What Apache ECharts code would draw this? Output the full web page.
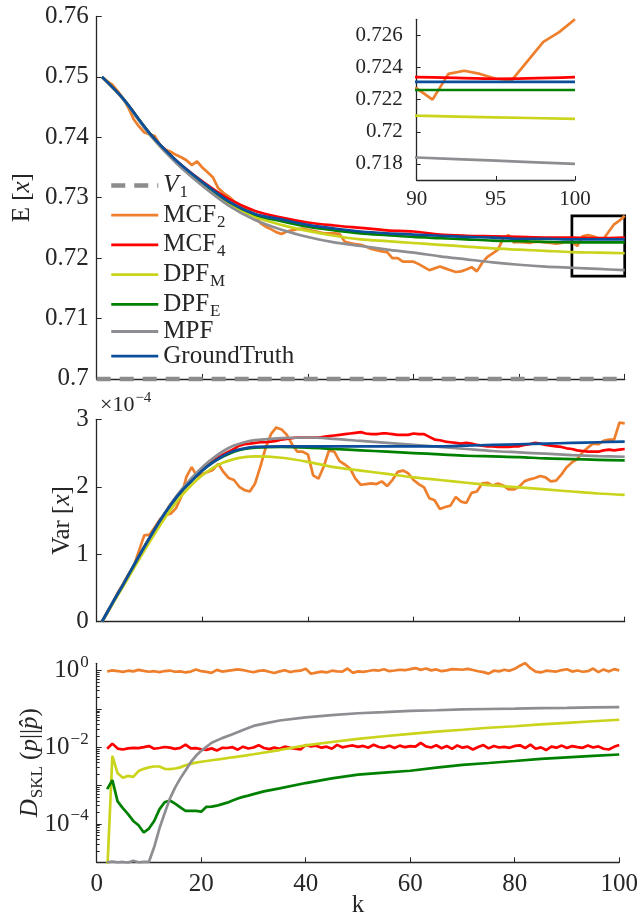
<!DOCTYPE html>
<html>
<head>
<meta charset="utf-8">
<script src="https://cdn.jsdelivr.net/npm/echarts@6/dist/echarts.min.js"></script>
<style>
  html, body { margin: 0; padding: 0; background: #fff; }
  #chart { width: 641px; height: 921px; }
</style>
</head>
<body>
<div id="chart"></div>
<script>
  // ---- data ----
  // panel 1: E[x]
  var kE = [1, 5, 10, 15, 20, 25, 30, 35, 40, 45, 50, 55, 60, 65, 70, 75, 80, 85, 90, 95, 100];
  var eMCF4 = [.7500, .7464, .7407, .7362, .7327, .7298, .7278, .7267, .7259, .7254, .7250, .7246, .7244, .7239, .7237, .7236, .7235, .7234, .7234, .7233, .7234];
  var eDPFM = [.7500, .7463, .7405, .7359, .7322, .7290, .7268, .7255, .7245, .7237, .7231, .7228, .7225, .7222, .7219, .7216, .7214, .7212, .7210, .7209, .7208];
  var eDPFE = [.7500, .7464, .7407, .7361, .7325, .7293, .7272, .7261, .7252, .7246, .7241, .7238, .7235, .7233, .7231, .7229, .7228, .7227, .7226, .7226, .7226];
  var eMPF = [.7500, .7463, .7405, .7358, .7320, .7287, .7263, .7247, .7235, .7226, .7220, .7214, .7209, .7203, .7198, .7193, .7189, .7186, .7184, .7182, .7180];
  var eGT = [.7500, .7464, .7407, .7362, .7326, .7294, .7273, .7264, .7255, .7249, .7244, .7241, .7239, .7237, .7235, .7234, .7232, .7232, .7231, .7231, .7231];
  // MCF2 is noisy, one value per k = 1..100
  var eMCF2 = [
    0.7500, 0.7493, 0.7487, 0.7476, 0.7464, 0.7449, 0.7430, 0.7418, 0.7408, 0.7405,
    0.7402, 0.7387, 0.7380, 0.7376, 0.7371, 0.7367, 0.7362, 0.7354, 0.7360, 0.7350,
    0.7342, 0.7334, 0.7316, 0.7308, 0.7302, 0.7294, 0.7289, 0.7284, 0.7278, 0.7270,
    0.7258, 0.7252, 0.7248, 0.7243, 0.7240, 0.7244, 0.7246, 0.7248, 0.7249, 0.7247,
    0.7245, 0.7243, 0.7241, 0.7241, 0.7241, 0.7240, 0.7227, 0.7225, 0.7223, 0.7222,
    0.7219, 0.7215, 0.7213, 0.7211, 0.7210, 0.7200, 0.7200, 0.7194, 0.7194, 0.7194,
    0.7190, 0.7185, 0.7180, 0.7183, 0.7186, 0.7183, 0.7180, 0.7177, 0.7178, 0.7181,
    0.7185, 0.7178, 0.7192, 0.7202, 0.7208, 0.7214, 0.7233, 0.7238, 0.7226, 0.7227,
    0.7226, 0.7225, 0.7227, 0.7227, 0.7226, 0.7225, 0.7224, 0.7225, 0.7227, 0.7227,
    0.7220, 0.7236, 0.7238, 0.7236, 0.7233, 0.7232, 0.7244, 0.7256, 0.7262, 0.7270
  ];
  var kV1 = [0, 100];
  var eV1 = [0.7, 0.7];

  // panel 2: Var[x], in units of 1e-4
  var kV = [1, 3, 5, 8, 10, 12, 14, 16, 18, 20, 22, 24, 26, 28, 30, 35, 40, 45, 50, 55, 60, 65, 70, 75, 80, 85, 90, 95, 100];
  var vGT = [0, .28, .55, .97, 1.24, 1.50, 1.73, 1.93, 2.09, 2.24, 2.36, 2.46, 2.53, 2.57, 2.59, 2.60, 2.60, 2.60, 2.60, 2.60, 2.60, 2.60, 2.61, 2.62, 2.63, 2.64, 2.65, 2.66, 2.67];
  var vMPF = [0, .28, .55, .97, 1.24, 1.50, 1.74, 1.95, 2.13, 2.29, 2.42, 2.53, 2.61, 2.66, 2.69, 2.72, 2.73, 2.71, 2.68, 2.65, 2.62, 2.59, 2.56, 2.53, 2.51, 2.49, 2.47, 2.455, 2.445];
  var vDPFE = [0, .28, .55, .97, 1.24, 1.50, 1.73, 1.93, 2.09, 2.24, 2.36, 2.45, 2.52, 2.56, 2.58, 2.59, 2.58, 2.56, 2.54, 2.52, 2.50, 2.48, 2.46, 2.45, 2.44, 2.42, 2.41, 2.40, 2.39];
  var vDPFM = [0, .26, .52, .92, 1.18, 1.43, 1.66, 1.86, 2.03, 2.17, 2.28, 2.36, 2.41, 2.44, 2.45, 2.43, 2.37, 2.29, 2.24, 2.19, 2.14, 2.10, 2.06, 2.02, 1.99, 1.96, 1.93, 1.90, 1.88];
  var vMCF4 = [
    0, .14, .28, .42, .55, .69, .83, .97, 1.11, 1.24,
    1.37, 1.50, 1.62, 1.74, 1.84, 1.94, 2.03, 2.11, 2.19, 2.26,
    2.32, 2.38, 2.43, 2.48, 2.52, 2.56, 2.61, 2.63, 2.64, 2.65,
    2.66, 2.66, 2.67, 2.68, 2.70, 2.71, 2.72, 2.73, 2.73, 2.73,
    2.73, 2.73, 2.74, 2.75, 2.76, 2.77, 2.78, 2.79, 2.80, 2.81,
    2.79, 2.78, 2.78, 2.79, 2.79, 2.78, 2.77, 2.77, 2.77, 2.79,
    2.78, 2.78, 2.74, 2.70, 2.69, 2.67, 2.66, 2.65, 2.64, 2.65,
    2.64, 2.62, 2.61, 2.60, 2.60, 2.59, 2.59, 2.59, 2.60, 2.60,
    2.62, 2.63, 2.65, 2.64, 2.62, 2.61, 2.60, 2.59, 2.57, 2.56,
    2.54, 2.53, 2.52, 2.52, 2.52, 2.54, 2.55, 2.54, 2.55, 2.56
  ];
  var vMCF2 = [
    0, .13, .27, .43, .56, .70, .82, 1.05, 1.28, 1.29,
    1.40, 1.52, 1.58, 1.60, 1.68, 1.85, 2.15, 2.29, 2.15, 2.19,
    2.22, 2.25, 2.34, 2.22, 2.13, 2.10, 2.00, 1.95, 1.93, 2.05,
    2.30, 2.58, 2.78, 2.88, 2.85, 2.77, 2.63, 2.52, 2.52, 2.48,
    2.17, 2.12, 2.30, 2.54, 2.52, 2.38, 2.33, 2.27, 2.12, 2.03,
    2.04, 2.05, 2.04, 2.08, 2.01, 2.10, 2.22, 2.24, 2.20, 2.10,
    2.04, 1.99, 1.83, 1.80, 1.67, 1.70, 1.72, 1.85, 1.78, 1.76,
    1.91, 1.93, 2.05, 2.06, 2.02, 2.05, 2.02, 1.96, 1.96, 2.00,
    2.08, 2.11, 2.13, 2.16, 2.14, 2.08, 2.09, 2.18, 2.29, 2.36,
    2.41, 2.51, 2.58, 2.64, 2.63, 2.68, 2.70, 2.70, 2.95, 2.94
  ];

  // panel 3: D_SKL (log scale), noisy series for k = 2..100
  var dMCF2 = [
    0.95, 1.02, 0.98, 0.93, 1.00, 0.96, 1.05, 0.99, 0.94, 0.97,
    0.92, 0.98, 1.01, 0.94, 0.96, 0.90, 0.95, 1.07, 0.97, 0.93,
    0.88, 1.05, 0.95, 0.99, 1.03, 1.08, 1.04, 0.97, 0.91, 0.99,
    1.02, 0.94, 0.87, 0.96, 1.03, 0.92, 0.98, 1.00, 1.12, 0.83,
    0.89, 0.95, 0.90, 1.00, 0.96, 0.95, 1.14, 0.88, 0.96, 0.93,
    0.98, 1.04, 1.01, 1.09, 0.97, 1.01, 1.06, 1.03, 1.10, 1.17,
    1.05, 1.14, 1.02, 1.08, 0.97, 1.02, 1.10, 1.08, 1.06, 1.12,
    1.04, 0.97, 0.92, 0.84, 1.00, 0.96, 1.06, 0.99, 1.12, 1.35,
    1.58, 1.16, 0.95, 0.90, 1.00, 0.97, 0.95, 1.04, 1.09, 0.95,
    1.01, 0.94, 0.97, 1.14, 0.92, 1.08, 0.95, 1.10, 1.02
  ];
  var dMCF4 = [
    0.0092, 0.0125, 0.0093, 0.0088, 0.0094, 0.0097, 0.0095, 0.0101, 0.0108, 0.0092,
    0.0096, 0.0102, 0.0098, 0.0091, 0.0097, 0.0118, 0.0094, 0.0095, 0.0089, 0.0086,
    0.0094, 0.0083, 0.0097, 0.0096, 0.0101, 0.0087, 0.0104, 0.0093, 0.0099, 0.0114,
    0.0096, 0.0090, 0.0098, 0.0092, 0.0104, 0.0097, 0.0093, 0.0088, 0.0115, 0.0106,
    0.0110, 0.0098, 0.0104, 0.0092, 0.0116, 0.0100, 0.0107, 0.0112, 0.0103, 0.0109,
    0.0098, 0.0117, 0.0102, 0.0097, 0.0110, 0.0096, 0.0111, 0.0101, 0.0108, 0.0104,
    0.0131, 0.0106, 0.0099, 0.0113, 0.0095, 0.0108, 0.0091, 0.0112, 0.0098, 0.0104,
    0.0088, 0.0102, 0.0115, 0.0094, 0.0108, 0.0099, 0.0103, 0.0097, 0.0109, 0.0113,
    0.0096, 0.0118, 0.0092, 0.0100, 0.0085, 0.0104, 0.0098, 0.0111, 0.0096, 0.0108,
    0.0101, 0.0097, 0.0112, 0.0099, 0.0106, 0.0092, 0.0088, 0.0103, 0.0115
  ];
  var kDPFM = [2, 3, 4, 5, 6, 7, 8, 9, 10, 11, 12, 13, 14, 15, 16, 17, 18, 19, 20, 22, 24, 26, 28, 30, 35, 40, 45, 50, 55, 60, 65, 70, 75, 80, 85, 90, 95, 100];
  var dDPFM = [5e-6, 6.0e-3, 2.1e-3, 1.6e-3, 1.8e-3, 1.7e-3, 2.4e-3, 2.75e-3, 3.0e-3, 3.16e-3,
    3.16e-3, 2.75e-3, 2.7e-3, 2.8e-3, 3.0e-3, 3.4e-3, 3.7e-3, 4.0e-3, 4.2e-3, 4.6e-3,
    5.0e-3, 5.5e-3, 6.0e-3, 6.6e-3, 8.5e-3, 0.0112, 0.0138, 0.0166, 0.0195, 0.0224,
    0.0257, 0.0288, 0.0324, 0.0355, 0.0398, 0.0437, 0.0479, 0.0525];
  var kDPFE = [2, 3, 4, 5, 6, 7, 8, 9, 10, 11, 12, 13, 14, 15, 16, 17, 18, 19, 20, 21, 22, 23, 24, 25, 26, 27, 28, 29, 30, 32, 35, 40, 45, 50, 55, 60, 65, 70, 75, 80, 85, 90, 95, 100];
  var dDPFE = [8.1e-4, 1.4e-3, 3.9e-4, 2.6e-4, 1.8e-4, 1.2e-4, 9.3e-5, 6.0e-5, 7.6e-5, 1.2e-4,
    2.4e-4, 3.7e-4, 4.1e-4, 3.4e-4, 2.7e-4, 2.2e-4, 2.2e-4, 2.2e-4, 2.1e-4, 2.8e-4,
    2.85e-4, 3.0e-4, 3.3e-4, 3.6e-4, 4.1e-4, 4.6e-4, 5.1e-4, 5.5e-4, 6.0e-4, 7.1e-4,
    8.5e-4, 1.17e-3, 1.55e-3, 1.95e-3, 2.2e-3, 2.45e-3, 2.95e-3, 3.5e-3, 3.9e-3, 4.4e-3,
    5.0e-3, 5.5e-3, 6.0e-3, 6.5e-3];
  var kMPF = [2, 3, 4, 5, 6, 7, 8, 9, 10, 11, 12, 13, 14, 15, 16, 17, 18, 19, 20, 22, 24, 26, 28, 30, 32, 35, 40, 45, 50, 55, 60, 65, 70, 75, 80, 85, 90, 95, 100];
  var dMPF = [1.0e-5, 1.05e-5, 1.0e-5, 1.02e-5, 0.98e-5, 1.1e-5, 1.0e-5, 1.02e-5, 1.03e-5,
    2.5e-5, 7.6e-5, 1.9e-4, 4.6e-4, 8.9e-4, 1.55e-3, 2.5e-3, 4.1e-3, 6.0e-3, 8.1e-3,
    0.0132, 0.0174, 0.0219, 0.0282, 0.0363, 0.0417, 0.0501,
    0.0603, 0.069, 0.0776, 0.083, 0.089, 0.093, 0.098, 0.1, 0.102, 0.105, 0.107, 0.11, 0.112];

  // tick labels
  var eTicks = [0.7, 0.71, 0.72, 0.73, 0.74, 0.75, 0.76];
  var insetTicks = [0.718, 0.72, 0.722, 0.724, 0.726];
  var logLabelTicks = [1e-4, 1e-2, 1];

  var kFull = [];
  for (var i = 1; i <= 100; i++) kFull.push(i);
  var kFrom2 = kFull.slice(1);

  // ---- style ----
  var serif = 'Liberation Serif';
  var ink = '#262626';
  var colors = {
    V1: '#8c8c8c',
    MCF2: '#ee7f2d',
    MCF4: '#ff0000',
    DPFM: '#cbd41c',
    DPFE: '#008000',
    MPF: '#8e8e92',
    GroundTruth: '#0b4e9b'
  };
  var v1Dash = [14, 9];
  var legendText = {
    V1: '{i|V}{sub|1}',
    MCF2: 'MCF{sub|2}',
    MCF4: 'MCF{sub|4}',
    DPFM: 'DPF{sub|M}',
    DPFE: 'DPF{sub|E}',
    MPF: 'MPF',
    GroundTruth: 'GroundTruth'
  };
  function richSet(size) {
    return {
      i: { fontFamily: serif, fontStyle: 'italic', fontSize: size, color: ink, verticalAlign: 'middle' },
      sub: { fontFamily: serif, fontSize: Math.round(size * 0.66), color: ink, lineHeight: 10, padding: [14, 0, 0, 1], verticalAlign: 'middle' },
      sup: { fontFamily: serif, fontSize: Math.round(size * 0.66), color: ink, lineHeight: 10, padding: [0, 0, 16, 1], verticalAlign: 'middle' }
    };
  }

  function pairs(ks, vs) {
    return ks.map(function (k, j) { return [k, vs[j]]; });
  }
  function line(name, grid, ks, vs, opts) {
    var s = {
      type: 'line',
      name: name,
      xAxisIndex: grid,
      yAxisIndex: grid,
      data: pairs(ks, vs),
      symbol: 'none',
      clip: true,
      lineStyle: { color: colors[name], width: 2.7 },
      itemStyle: { color: colors[name] }
    };
    if (opts) Object.keys(opts).forEach(function (key) { s[key] = opts[key]; });
    return s;
  }
  var smooth = { smooth: 0.3 };

  function xAxisFor(grid, showLabel) {
    return {
      type: 'value', gridIndex: grid, min: 0, max: 100, interval: 20,
      axisLine: { lineStyle: { color: ink, width: 1.3 } },
      axisTick: { inside: true, length: 5, lineStyle: { color: ink } },
      splitLine: { show: false },
      axisLabel: { show: showLabel, color: ink, fontFamily: serif, fontSize: 25, margin: 10 }
    };
  }

  // minor ticks for the log axis
  var minorLog = [];
  for (var e = -5; e <= 0; e++) {
    for (var m = 2; m <= 9; m++) {
      if (m * Math.pow(10, e) < 1.56) minorLog.push(m * Math.pow(10, e));
    }
  }

  var grids = [
    { left: 96.7, top: 16.5, width: 528, height: 362.4 },
    { left: 96.7, top: 419.3, width: 528, height: 202.4 },
    { left: 96.7, top: 663.3, width: 528, height: 199 },
    { left: 416.7, top: 19.3, width: 158.3, height: 160.7 }
  ];

  var xAxes = [xAxisFor(0, false), xAxisFor(1, false), xAxisFor(2, true), {
    type: 'value', gridIndex: 3, min: 90, max: 100, interval: 5,
    axisLine: { lineStyle: { color: ink, width: 1.3 } },
    axisTick: { inside: true, length: 4, lineStyle: { color: ink } },
    splitLine: { show: false },
    axisLabel: { color: ink, fontFamily: serif, fontSize: 21, margin: 9 }
  }];
  xAxes[2].name = 'k';
  xAxes[2].nameLocation = 'middle';
  xAxes[2].nameGap = 31;
  xAxes[2].nameMoveOverlap = false;
  xAxes[2].nameTextStyle = { color: ink, fontFamily: serif, fontSize: 25 };

  var yAxes = [
    {
      type: 'value', gridIndex: 0, min: 0.7, max: 0.76,
      axisLine: { show: true, lineStyle: { color: ink, width: 1.3 } },
      axisTick: { inside: true, length: 5, lineStyle: { color: ink }, customValues: eTicks },
      axisLabel: { color: ink, fontFamily: serif, fontSize: 25, margin: 8, customValues: eTicks },
      splitLine: { show: false },
      name: 'E [{i|x}]', nameLocation: 'middle', nameGap: 62, nameMoveOverlap: false,
      nameTextStyle: { color: ink, fontFamily: serif, fontSize: 25, rich: richSet(25) }
    },
    {
      type: 'value', gridIndex: 1, min: 0, max: 3, interval: 1,
      axisLine: { show: true, lineStyle: { color: ink, width: 1.3 } },
      axisTick: { inside: true, length: 5, lineStyle: { color: ink } },
      axisLabel: { color: ink, fontFamily: serif, fontSize: 25, margin: 8 },
      splitLine: { show: false },
      name: 'Var [{i|x}]', nameLocation: 'middle', nameGap: 22, nameMoveOverlap: false,
      nameTextStyle: { color: ink, fontFamily: serif, fontSize: 25, rich: richSet(25) }
    },
    {
      type: 'log', gridIndex: 2, min: 1e-5, max: 1.56, logBase: 10,
      axisLine: { show: true, lineStyle: { color: ink, width: 1.3 } },
      axisTick: { inside: true, length: 5, lineStyle: { color: ink }, customValues: [1e-5, 1e-4, 1e-3, 1e-2, 1e-1, 1] },
      axisLabel: {
        color: ink, fontFamily: serif, fontSize: 25, margin: 8, customValues: logLabelTicks,
        formatter: function (v) {
          var p = Math.round(Math.log10(v));
          return '10{sup|' + (p < 0 ? '\u2212' + (-p) : p) + '}';
        },
        rich: richSet(25)
      },
      splitLine: { show: false },
      name: '{i|D}{sub|SKL} ({i|p}||{i|p\u0302})', nameLocation: 'middle', nameGap: 54, nameMoveOverlap: false,
      nameTextStyle: { color: ink, fontFamily: serif, fontSize: 25, rich: richSet(25) }
    },
    {
      type: 'value', gridIndex: 3, min: 0.717, max: 0.727,
      axisLine: { show: true, lineStyle: { color: ink, width: 1.3 } },
      axisTick: { inside: true, length: 4, lineStyle: { color: ink }, customValues: insetTicks },
      axisLabel: { color: ink, fontFamily: serif, fontSize: 21, margin: 14, customValues: insetTicks },
      splitLine: { show: false }
    },
    {
      // minor ticks of the log axis
      type: 'log', gridIndex: 2, min: 1e-5, max: 1.56, logBase: 10,
      position: 'left', offset: 0,
      axisLine: { show: false },
      axisTick: { inside: true, length: 3, lineStyle: { color: ink }, customValues: minorLog },
      axisLabel: { show: false },
      splitLine: { show: false }
    }
  ];

  var series = [
    // panel 1
    line('V1', 0, kV1, eV1, { clip: false, z: 5, lineStyle: { color: colors.V1, width: 4.5, type: v1Dash } }),
    line('MCF2', 0, kFull, eMCF2),
    line('MCF4', 0, kE, eMCF4, smooth),
    line('DPFM', 0, kE, eDPFM, smooth),
    line('DPFE', 0, kE, eDPFE, smooth),
    line('MPF', 0, kE, eMPF, smooth),
    line('GroundTruth', 0, kE, eGT, {
      smooth: 0.3,
      markArea: {
        silent: true,
        itemStyle: { color: 'rgba(0,0,0,0)', borderColor: '#000', borderWidth: 2.7 },
        data: [[{ coord: [90, 0.727] }, { coord: [100, 0.717] }]]
      }
    }),
    // panel 2
    line('MCF2', 1, kFull, vMCF2),
    line('MCF4', 1, kFull, vMCF4),
    line('DPFM', 1, kV, vDPFM, smooth),
    line('DPFE', 1, kV, vDPFE, smooth),
    line('MPF', 1, kV, vMPF, smooth),
    line('GroundTruth', 1, kV, vGT, smooth),
    // panel 3
    line('MCF2', 2, kFrom2, dMCF2),
    line('MCF4', 2, kFrom2, dMCF4),
    line('DPFM', 2, kDPFM, dDPFM),
    line('DPFE', 2, kDPFE, dDPFE),
    line('MPF', 2, kMPF, dMPF),
    // inset
    line('MCF2', 3, kFull, eMCF2),
    line('MCF4', 3, kE, eMCF4, smooth),
    line('DPFM', 3, kE, eDPFM, smooth),
    line('DPFE', 3, kE, eDPFE, smooth),
    line('MPF', 3, kE, eMPF, smooth),
    line('GroundTruth', 3, kE, eGT, smooth)
  ];

  var legendNames = ['V1', 'MCF2', 'MCF4', 'DPFM', 'DPFE', 'MPF', 'GroundTruth'];
  var legendData = legendNames.map(function (n) {
    return n === 'V1'
      ? { name: n, lineStyle: { width: 4.5, type: v1Dash, color: colors.V1 } }
      : { name: n, lineStyle: { width: 2.8, color: colors[n] } };
  });

  var chart = echarts.init(document.getElementById('chart'), null, { renderer: 'canvas' });
  chart.setOption({
    animation: false,
    backgroundColor: '#fff',
    grid: grids,
    xAxis: xAxes,
    yAxis: yAxes,
    legend: {
      orient: 'vertical',
      left: 104,
      top: 165,
      itemWidth: 47,
      itemHeight: 14,
      itemGap: -1.3,
      itemStyle: { opacity: 0 },
      data: legendData,
      formatter: function (name) { return legendText[name]; },
      textStyle: { color: ink, fontFamily: serif, fontSize: 25, lineHeight: 26, rich: richSet(25) }
    },
    graphic: [{
      type: 'text', left: 100, top: 391,
      style: {
        text: '\u00d710{sup|\u22124}',
        fill: ink, fontFamily: serif, fontSize: 22,
        rich: { sup: { fontFamily: serif, fontSize: 15, fill: ink, lineHeight: 10, padding: [0, 0, 14, 1], verticalAlign: 'middle' } }
      }
    }],
    series: series
  });
</script>
</body>
</html>
